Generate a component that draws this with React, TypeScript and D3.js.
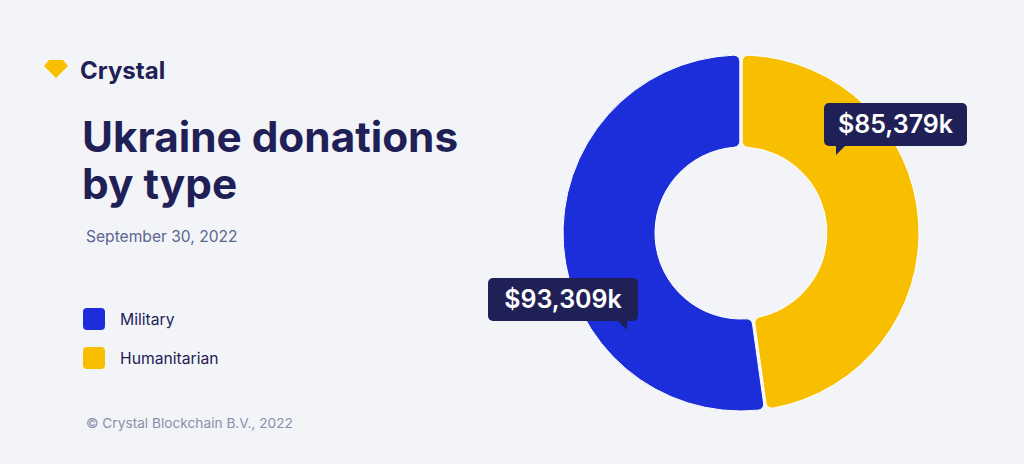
import React from "react";
import * as d3 from "d3";

const categories = ["Humanitarian", "Military"];
const values = [85379, 93309];
const valueLabels = ["$85,379k", "$93,309k"];
const legendOrder = ["Military", "Humanitarian"];

const COLORS: Record<string, string> = { Military: "#1b2ed9", Humanitarian: "#f8bf00" };
const NAVY = "#1f2156";
const BG = "#f3f4f8";
const FONT = "Inter, 'Noto Sans', sans-serif";

export default function App() {
  const W = 1024, H = 464;
  const cx = 741, cy = 233, rOuter = 178, rInner = 86;
  const data = categories.map((c, i) => ({ cat: c, value: values[i], label: valueLabels[i] }));
  const pie = d3.pie<any>().sort(null).value((d) => d.value).padAngle(0.012);
  const arcs = pie(data);
  const arc = d3.arc<any>().innerRadius(rInner).outerRadius(rOuter).cornerRadius(6);

  const boxes: Record<string, { x: number; y: number; w: number; h: number; tail: "left" | "right" }> = {
    Humanitarian: { x: 824, y: 103, w: 143, h: 43, tail: "left" },
    Military: { x: 488, y: 278, w: 150, h: 43, tail: "right" },
  };

  return (
    <svg width={W} height={H} style={{ position: "absolute", left: 0, top: 0 }}>
      <rect width={W} height={H} fill={BG} />
      <path d="M44,66 L49,60 L63,60 L68,66 L56,78 Z" fill="#f8bf00" />
      <text x={80} y={79} fontFamily={FONT} fontWeight={700} fontSize={24} fill={NAVY}>Crystal</text>
      <text x={82} y={152} fontFamily={FONT} fontWeight={700} fontSize={42.3} fill={NAVY}>Ukraine donations</text>
      <text x={82} y={199} fontFamily={FONT} fontWeight={700} fontSize={42.3} fill={NAVY}>by type</text>
      <text x={86} y={242} fontFamily={FONT} fontSize={15.6} fill="#5a6591">September 30, 2022</text>
      {legendOrder.map((c, i) => (
        <g key={c} transform={`translate(83,${308 + i * 39})`}>
          <rect width={22} height={22} rx={4} fill={COLORS[c]} />
          <text x={37} y={17} fontFamily={FONT} fontSize={15.7} fill={NAVY}>{c}</text>
        </g>
      ))}
      <text x={86} y={428} fontFamily={FONT} fontSize={13.7} fill="#8b8fab">© Crystal Blockchain B.V., 2022</text>
      <g transform={`translate(${cx},${cy})`}>
        {arcs.map((a) => (
          <path key={a.data.cat} d={arc(a) || ""} fill={COLORS[a.data.cat]} stroke="#ffffff" strokeWidth={1} />
        ))}
      </g>
      {data.map((d) => {
        const b = boxes[d.cat];
        const tx = b.tail === "left" ? b.x + 12 : b.x + b.w - 21;
        return (
          <g key={d.cat}>
            <rect x={b.x} y={b.y} width={b.w} height={b.h} rx={5} fill={NAVY} />
            <path d={`M${tx},${b.y + b.h - 1} L${tx + 10},${b.y + b.h - 1} L${b.tail === "left" ? tx : tx + 10},${b.y + b.h + 9} Z`} fill={NAVY} />
            <text x={b.x + b.w / 2} y={b.y + 30} textAnchor="middle" fontFamily={FONT} fontWeight={600} fontSize={25} fill="#ffffff">{d.label}</text>
          </g>
        );
      })}
    </svg>
  );
}
